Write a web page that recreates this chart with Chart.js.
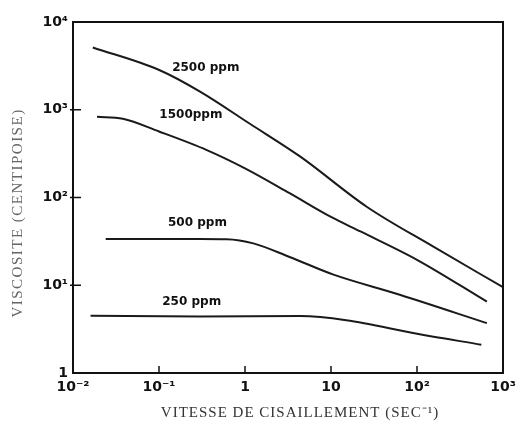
<!DOCTYPE html>
<html>
<head>
<meta charset="utf-8">
<script src="https://cdn.jsdelivr.net/npm/chart.js@4/dist/chart.umd.min.js"></script>
<style>
  html, body { margin: 0; padding: 0; background: #fff; }
  #wrap { width: 530px; height: 428px; }
</style>
</head>
<body>
<div id="wrap"><canvas id="myChart" width="530" height="428"></canvas></div>
<script>
// valeurs (échelles log-log)
const xTickValues = [0.01, 0.1, 1, 10, 100, 1000];
const xTickLabels = ['10⁻²', '10⁻¹', '1', '10', '10²', '10³'];
const yTickValues = [1, 10, 100, 1000, 10000];
const yTickLabels = ['1', '10¹', '10²', '10³', '10⁴'];

const seriesNames = ['2500 ppm', '1500ppm', '500 ppm', '250 ppm'];

const shear2500 = [0.017, 0.102, 0.30, 1.14, 4.4, 26, 155, 1000];
const visc2500  = [5130, 2820, 1610, 692, 292, 78.5, 27.5, 9.5];

const shear1500 = [0.019, 0.038, 0.10, 0.36, 1, 3.3, 10, 22, 100, 650];
const visc1500  = [830, 790, 565, 347, 215, 112, 60, 41, 19.5, 6.5];

const shear500 = [0.024, 0.3, 0.61, 1.25, 3.3, 10.7, 63, 650];
const visc500  = [33.6, 33.6, 33.4, 30, 21, 13.2, 7.8, 3.7];

const shear250 = [0.016, 0.3, 4.4, 15, 100, 560];
const visc250  = [4.5, 4.4, 4.45, 4.0, 2.8, 2.1];

// position des étiquettes de courbe (en coordonnées de données)
const labelX = [0.35, 0.235, 0.28, 0.24];
const labelY = [3000, 870, 52, 6.5];

const xTitle = 'VITESSE DE CISAILLEMENT (SEC⁻¹)';
const yTitle = 'VISCOSITE (CENTIPOISE)';

function toPoints(xs, ys) {
    return xs.map((x, i) => ({ x: x, y: ys[i] }));
}

const allX = [shear2500, shear1500, shear500, shear250];
const allY = [visc2500, visc1500, visc500, visc250];

const datasets = seriesNames.map((name, i) => ({
    label: name,
    data: toPoints(allX[i], allY[i]),
    borderColor: '#1a1a1a',
    borderWidth: 2,
    pointRadius: 0,
    fill: false,
    cubicInterpolationMode: 'monotone'
}));

// cadre, graduations intérieures, titres et étiquettes des courbes
const decorPlugin = {
    id: 'decor',
    afterDatasetsDraw(chart) {
        const ctx = chart.ctx;
        const area = chart.chartArea;
        const xs = chart.scales.x;
        const ys = chart.scales.y;
        ctx.save();
        ctx.strokeStyle = '#111';
        ctx.lineWidth = 2;
        ctx.strokeRect(area.left, area.top, area.right - area.left, area.bottom - area.top);

        ctx.lineWidth = 1.5;
        xTickValues.slice(1, -1).forEach(v => {
            const px = xs.getPixelForValue(v);
            ctx.beginPath();
            ctx.moveTo(px, area.bottom);
            ctx.lineTo(px, area.bottom - 7);
            ctx.stroke();
        });
        yTickValues.slice(1, -1).forEach(v => {
            const py = ys.getPixelForValue(v);
            ctx.beginPath();
            ctx.moveTo(area.left - 3, py);
            ctx.lineTo(area.left + 8, py);
            ctx.stroke();
        });

        ctx.fillStyle = '#111';
        ctx.font = 'bold 12px "DejaVu Sans", sans-serif';
        ctx.textAlign = 'center';
        ctx.textBaseline = 'middle';
        seriesNames.forEach((name, i) => {
            ctx.fillText(name, xs.getPixelForValue(labelX[i]), ys.getPixelForValue(labelY[i]));
        });

        // titres des axes (serif, espacés)
        ctx.font = '15px "Liberation Serif", serif';
        ctx.letterSpacing = '1px';
        ctx.fillStyle = '#333';
        ctx.fillText(xTitle, 300, 413);

        ctx.fillStyle = '#666';
        ctx.letterSpacing = '1.5px';
        ctx.translate(18, 213);
        ctx.rotate(-Math.PI / 2);
        ctx.fillText(yTitle, 0, 0);
        ctx.restore();
    }
};

const ctx = document.getElementById('myChart').getContext('2d');
const myChart = new Chart(ctx, {
    type: 'line',
    data: { datasets: datasets },
    options: {
        responsive: false,
        animation: false,
        layout: { padding: { top: 22, right: 27, left: 0, bottom: 0 } },
        plugins: {
            legend: { display: false },
            tooltip: { enabled: false }
        },
        scales: {
            x: {
                type: 'logarithmic',
                min: 0.01,
                max: 1000,
                afterBuildTicks: scale => { scale.ticks = xTickValues.map(v => ({ value: v })); },
                afterFit: scale => { scale.height = 55; },
                grid: { display: false, drawTicks: false },
                border: { display: false },
                ticks: {
                    autoSkip: false,
                    maxRotation: 0,
                    padding: 6,
                    color: '#111',
                    font: { family: '"DejaVu Sans", sans-serif', size: 14, weight: 'bold' },
                    callback: value => {
                        const i = xTickValues.indexOf(value);
                        return i >= 0 ? xTickLabels[i] : '';
                    }
                }
            },
            y: {
                type: 'logarithmic',
                min: 1,
                max: 10000,
                afterBuildTicks: scale => { scale.ticks = yTickValues.map(v => ({ value: v })); },
                afterFit: scale => { scale.width = 73; },
                grid: { display: false, drawTicks: false },
                border: { display: false },
                ticks: {
                    autoSkip: false,
                    padding: 5,
                    color: '#111',
                    font: { family: '"DejaVu Sans", sans-serif', size: 14, weight: 'bold' },
                    callback: value => {
                        const i = yTickValues.indexOf(value);
                        return i >= 0 ? yTickLabels[i] : '';
                    }
                }
            }
        }
    },
    plugins: [decorPlugin]
});
</script>
</body>
</html>
